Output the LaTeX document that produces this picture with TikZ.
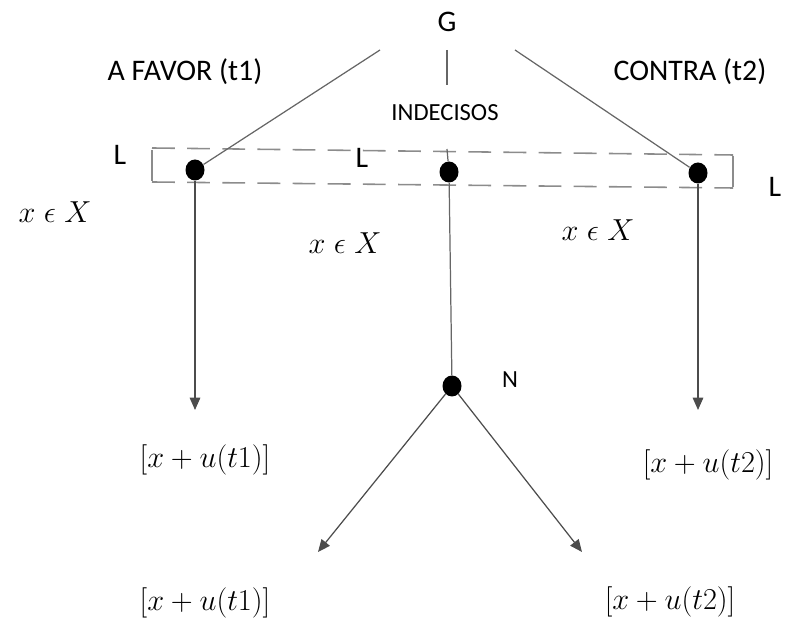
\documentclass[tikz,border=0pt]{standalone}
\usepackage{amsmath,amssymb}
\usepackage{fontspec}
\setmainfont{Carlito}
\usepackage{tikz}
\usetikzlibrary{arrows.meta}

\tikzset{
  dot/.style={ellipse,fill=black,minimum width=0.38cm,minimum height=0.42cm,inner sep=0pt},
  edge/.style={line width=0.7pt,black!60},
  arr/.style={edge,-{Triangle[length=7pt,width=6pt]},black!70},
  head/.style={font=\fontsize{17}{19}\selectfont},
  small/.style={font=\fontsize{14}{16}\selectfont},
  pay/.style={font=\fontsize{17.5}{20}\selectfont},
}
\usetikzlibrary{shapes.geometric}

\begin{document}
\begin{tikzpicture}[x=1cm,y=1cm]
\useasboundingbox (0,0) rectangle (15.88,12.48);

% game root
\node[head] (g) at (8.94,12.04) {G};
\node[head] (fav) at (3.70,11.04) {A FAVOR (t1)};
\node[head] (con) at (13.80,11.04) {CONTRA (t2)};
\node[small] (ind) at (8.90,10.22) {INDECISOS};

\coordinate (gl) at (7.60,11.48);
\coordinate (gr) at (10.30,11.48);
\coordinate (gm) at (8.94,11.48);
\coordinate (gm2) at (8.94,10.78);
\coordinate (bt) at (8.94,9.50);

% information set
\draw[line width=0.9pt,black!45,dash pattern=on 13pt off 7pt]
  (3.04,9.52) -- (14.66,9.38) (3.04,8.84) -- (14.66,8.72);
\draw[line width=0.9pt,black!45] (3.04,9.48) -- (3.04,8.86) (14.66,9.36) -- (14.66,8.74);

\node[dot] (l) at (3.90,9.08) {};
\node[dot] (m) at (8.98,9.04) {};
\node[dot] (r) at (13.96,9.02) {};

\draw[edge] (gl) -- (l);
\draw[edge] (gr) -- (r);
\draw[edge] (gm) -- (gm2);
\draw[edge] (bt) -- (m);

\node[head] (ll) at (2.40,9.38) {L};
\node[head] (lm) at (7.24,9.32) {L};
\node[head] (lr) at (15.50,8.74) {L};

\node[pay] (xl) at (1.10,8.24) {$x \mathrel{\epsilon} X$};
\node[pay] (xm) at (6.90,7.62) {$x \mathrel{\epsilon} X$};
\node[pay] (xr) at (11.96,7.88) {$x \mathrel{\epsilon} X$};

% nature move
\node[dot] (n) at (9.04,4.76) {};
\node[small] (nl) at (10.20,4.88) {N};

\coordinate (el) at (3.90,4.28);
\coordinate (er) at (13.96,4.28);
\coordinate (enl) at (6.36,1.44);
\coordinate (enr) at (11.64,1.44);

\draw[arr] (l) -- (el);
\draw[arr] (r) -- (er);
\draw[edge] (m) -- (n);
\draw[arr] (n) -- (enl);
\draw[arr] (n) -- (enr);

\node[pay] (pl) at (4.10,3.28) {$[x+u(t1)]$};
\node[pay] (pr) at (14.16,3.18) {$[x+u(t2)]$};
\node[pay] (pnl) at (4.10,0.42) {$[x+u(t1)]$};
\node[pay] (pnr) at (13.40,0.44) {$[x+u(t2)]$};
\end{tikzpicture}
\end{document}
